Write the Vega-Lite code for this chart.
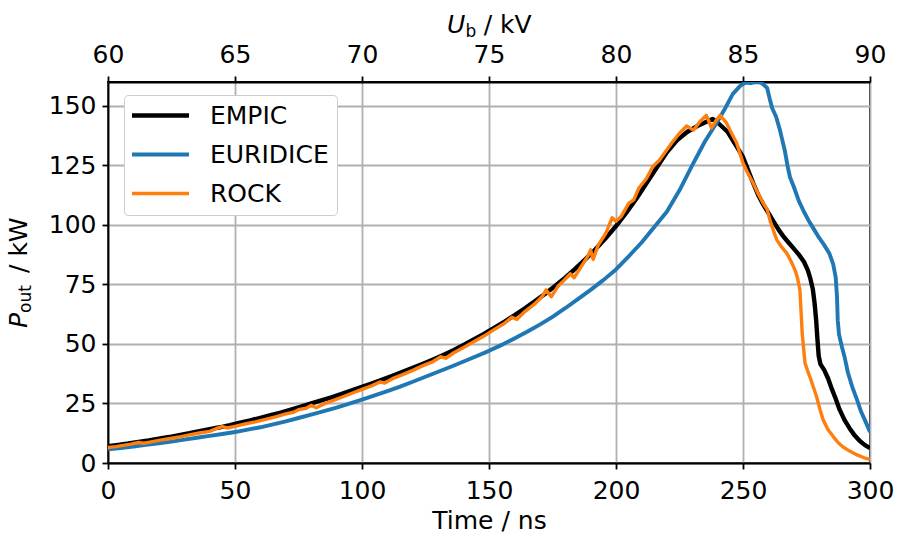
{
  "$schema": "https://vega.github.io/schema/vega-lite/v6.json",
  "width": 762,
  "height": 381,
  "autosize": {"type": "none"},
  "padding": {"left": 108, "top": 82, "right": 27, "bottom": 73},
  "background": "white",
  "config": {
    "font": "DejaVu Sans",
    "view": {"stroke": "black", "strokeWidth": 1.8},
    "axis": {
      "labelFont": "DejaVu Sans", "labelFontSize": 25, "labelColor": "black",
      "titleFont": "DejaVu Sans", "titleFontSize": 25, "titleFontWeight": "normal", "titleColor": "black",
      "domainColor": "black", "domainWidth": 1.8, "tickColor": "black", "tickWidth": 1.8, "tickSize": 6,
      "gridColor": "#b0b0b0", "gridWidth": 1.8, "labelFlush": false, "labelOverlap": false, "labelBound": false
    }
  },
  "data": {"values": [
    {"time":0,"power":7.0,"code":"EMPIC"},{"time":4,"power":7.6,"code":"EMPIC"},{"time":8,"power":8.2,"code":"EMPIC"},{"time":12,"power":8.9,"code":"EMPIC"},{"time":16,"power":9.5,"code":"EMPIC"},{"time":20,"power":10.2,"code":"EMPIC"},{"time":24,"power":10.9,"code":"EMPIC"},{"time":28,"power":11.7,"code":"EMPIC"},{"time":32,"power":12.5,"code":"EMPIC"},{"time":36,"power":13.4,"code":"EMPIC"},{"time":40,"power":14.2,"code":"EMPIC"},{"time":44,"power":15.0,"code":"EMPIC"},{"time":48,"power":15.9,"code":"EMPIC"},{"time":52,"power":16.9,"code":"EMPIC"},{"time":56,"power":17.9,"code":"EMPIC"},{"time":60,"power":19.0,"code":"EMPIC"},{"time":64,"power":20.1,"code":"EMPIC"},{"time":68,"power":21.2,"code":"EMPIC"},{"time":72,"power":22.4,"code":"EMPIC"},{"time":76,"power":23.7,"code":"EMPIC"},{"time":80,"power":25.0,"code":"EMPIC"},{"time":84,"power":26.3,"code":"EMPIC"},{"time":88,"power":27.6,"code":"EMPIC"},{"time":92,"power":29.0,"code":"EMPIC"},{"time":96,"power":30.5,"code":"EMPIC"},{"time":100,"power":32.0,"code":"EMPIC"},{"time":104,"power":33.5,"code":"EMPIC"},{"time":108,"power":35.0,"code":"EMPIC"},{"time":112,"power":36.6,"code":"EMPIC"},{"time":116,"power":38.3,"code":"EMPIC"},{"time":120,"power":40.0,"code":"EMPIC"},{"time":124,"power":41.7,"code":"EMPIC"},{"time":128,"power":43.5,"code":"EMPIC"},{"time":132,"power":45.4,"code":"EMPIC"},{"time":136,"power":47.4,"code":"EMPIC"},{"time":140,"power":49.6,"code":"EMPIC"},{"time":144,"power":51.9,"code":"EMPIC"},{"time":148,"power":54.2,"code":"EMPIC"},{"time":152,"power":56.7,"code":"EMPIC"},{"time":156,"power":59.3,"code":"EMPIC"},{"time":160,"power":62.0,"code":"EMPIC"},{"time":164,"power":64.9,"code":"EMPIC"},{"time":168,"power":67.9,"code":"EMPIC"},{"time":172,"power":71.0,"code":"EMPIC"},{"time":176,"power":74.3,"code":"EMPIC"},{"time":180,"power":77.8,"code":"EMPIC"},{"time":184,"power":81.6,"code":"EMPIC"},{"time":188,"power":85.6,"code":"EMPIC"},{"time":192,"power":89.9,"code":"EMPIC"},{"time":196,"power":94.5,"code":"EMPIC"},{"time":200,"power":99.5,"code":"EMPIC"},{"time":204,"power":105,"code":"EMPIC"},{"time":208,"power":111,"code":"EMPIC"},{"time":212,"power":117.5,"code":"EMPIC"},{"time":216,"power":124,"code":"EMPIC"},{"time":220,"power":130.5,"code":"EMPIC"},{"time":224,"power":135.5,"code":"EMPIC"},{"time":228,"power":139,"code":"EMPIC"},{"time":232,"power":141.5,"code":"EMPIC"},{"time":235,"power":143,"code":"EMPIC"},{"time":238,"power":144.5,"code":"EMPIC"},{"time":240,"power":143,"code":"EMPIC"},{"time":242,"power":141,"code":"EMPIC"},{"time":244,"power":139,"code":"EMPIC"},{"time":246,"power":135.5,"code":"EMPIC"},{"time":248,"power":132,"code":"EMPIC"},{"time":250,"power":128.5,"code":"EMPIC"},{"time":252,"power":123,"code":"EMPIC"},{"time":254,"power":117.6,"code":"EMPIC"},{"time":256,"power":112.5,"code":"EMPIC"},{"time":258,"power":108.5,"code":"EMPIC"},{"time":260,"power":105,"code":"EMPIC"},{"time":262,"power":101.5,"code":"EMPIC"},{"time":264,"power":98,"code":"EMPIC"},{"time":266,"power":95,"code":"EMPIC"},{"time":268,"power":92.5,"code":"EMPIC"},{"time":270,"power":90,"code":"EMPIC"},{"time":272,"power":87.5,"code":"EMPIC"},{"time":274,"power":84.5,"code":"EMPIC"},{"time":275.5,"power":81,"code":"EMPIC"},{"time":276.5,"power":77.5,"code":"EMPIC"},{"time":277.5,"power":73,"code":"EMPIC"},{"time":278.2,"power":67,"code":"EMPIC"},{"time":278.8,"power":60,"code":"EMPIC"},{"time":279.3,"power":52,"code":"EMPIC"},{"time":279.8,"power":45,"code":"EMPIC"},{"time":280.5,"power":41.5,"code":"EMPIC"},{"time":282,"power":39,"code":"EMPIC"},{"time":283.5,"power":35.5,"code":"EMPIC"},{"time":285,"power":31,"code":"EMPIC"},{"time":286.5,"power":27,"code":"EMPIC"},{"time":288,"power":22.5,"code":"EMPIC"},{"time":290,"power":18,"code":"EMPIC"},{"time":292,"power":14.5,"code":"EMPIC"},{"time":294,"power":11.5,"code":"EMPIC"},{"time":296,"power":9.2,"code":"EMPIC"},{"time":298,"power":7.5,"code":"EMPIC"},{"time":300,"power":6.3,"code":"EMPIC"},

    {"time":0,"power":5.7,"code":"EURIDICE"},{"time":5,"power":6.3,"code":"EURIDICE"},{"time":10,"power":6.9,"code":"EURIDICE"},{"time":15,"power":7.6,"code":"EURIDICE"},{"time":20,"power":8.3,"code":"EURIDICE"},{"time":25,"power":9.0,"code":"EURIDICE"},{"time":30,"power":9.8,"code":"EURIDICE"},{"time":35,"power":10.6,"code":"EURIDICE"},{"time":40,"power":11.4,"code":"EURIDICE"},{"time":45,"power":12.2,"code":"EURIDICE"},{"time":50,"power":13.0,"code":"EURIDICE"},{"time":55,"power":14.0,"code":"EURIDICE"},{"time":60,"power":15.0,"code":"EURIDICE"},{"time":65,"power":16.2,"code":"EURIDICE"},{"time":70,"power":17.5,"code":"EURIDICE"},{"time":75,"power":18.9,"code":"EURIDICE"},{"time":80,"power":20.3,"code":"EURIDICE"},{"time":85,"power":21.8,"code":"EURIDICE"},{"time":90,"power":23.3,"code":"EURIDICE"},{"time":95,"power":24.9,"code":"EURIDICE"},{"time":100,"power":26.6,"code":"EURIDICE"},{"time":105,"power":28.4,"code":"EURIDICE"},{"time":110,"power":30.2,"code":"EURIDICE"},{"time":115,"power":32.1,"code":"EURIDICE"},{"time":120,"power":34.1,"code":"EURIDICE"},{"time":125,"power":36.2,"code":"EURIDICE"},{"time":130,"power":38.3,"code":"EURIDICE"},{"time":135,"power":40.4,"code":"EURIDICE"},{"time":140,"power":42.6,"code":"EURIDICE"},{"time":145,"power":44.8,"code":"EURIDICE"},{"time":150,"power":47.1,"code":"EURIDICE"},{"time":155,"power":49.6,"code":"EURIDICE"},{"time":160,"power":52.3,"code":"EURIDICE"},{"time":165,"power":55.1,"code":"EURIDICE"},{"time":170,"power":58.1,"code":"EURIDICE"},{"time":175,"power":61.4,"code":"EURIDICE"},{"time":180,"power":65.0,"code":"EURIDICE"},{"time":185,"power":68.8,"code":"EURIDICE"},{"time":190,"power":72.7,"code":"EURIDICE"},{"time":195,"power":76.8,"code":"EURIDICE"},{"time":200,"power":81.3,"code":"EURIDICE"},{"time":205,"power":86.8,"code":"EURIDICE"},{"time":210,"power":92.5,"code":"EURIDICE"},{"time":215,"power":99.0,"code":"EURIDICE"},{"time":220,"power":105.5,"code":"EURIDICE"},{"time":225,"power":114.5,"code":"EURIDICE"},{"time":230,"power":125,"code":"EURIDICE"},{"time":235,"power":135,"code":"EURIDICE"},{"time":240,"power":143.5,"code":"EURIDICE"},{"time":243,"power":149,"code":"EURIDICE"},{"time":246,"power":155,"code":"EURIDICE"},{"time":249,"power":158.5,"code":"EURIDICE"},{"time":251,"power":159.8,"code":"EURIDICE"},{"time":253,"power":159.5,"code":"EURIDICE"},{"time":255,"power":160,"code":"EURIDICE"},{"time":257,"power":159.8,"code":"EURIDICE"},{"time":258.5,"power":158.5,"code":"EURIDICE"},{"time":259.5,"power":157.5,"code":"EURIDICE"},{"time":260.5,"power":153,"code":"EURIDICE"},{"time":261.5,"power":149,"code":"EURIDICE"},{"time":263,"power":145.5,"code":"EURIDICE"},{"time":264.5,"power":140,"code":"EURIDICE"},{"time":265.5,"power":135.5,"code":"EURIDICE"},{"time":266.5,"power":131,"code":"EURIDICE"},{"time":267.5,"power":125,"code":"EURIDICE"},{"time":268.5,"power":120,"code":"EURIDICE"},{"time":270,"power":116,"code":"EURIDICE"},{"time":272,"power":110,"code":"EURIDICE"},{"time":274,"power":105.5,"code":"EURIDICE"},{"time":276,"power":101.5,"code":"EURIDICE"},{"time":278,"power":98,"code":"EURIDICE"},{"time":280,"power":94.5,"code":"EURIDICE"},{"time":282,"power":91.5,"code":"EURIDICE"},{"time":284,"power":88,"code":"EURIDICE"},{"time":285.5,"power":83.5,"code":"EURIDICE"},{"time":286.5,"power":78,"code":"EURIDICE"},{"time":287,"power":70,"code":"EURIDICE"},{"time":287.3,"power":60,"code":"EURIDICE"},{"time":287.8,"power":54,"code":"EURIDICE"},{"time":289,"power":48.5,"code":"EURIDICE"},{"time":290,"power":44.5,"code":"EURIDICE"},{"time":291.3,"power":38,"code":"EURIDICE"},{"time":293,"power":32,"code":"EURIDICE"},{"time":294.9,"power":26.5,"code":"EURIDICE"},{"time":296.5,"power":21.5,"code":"EURIDICE"},{"time":298,"power":18,"code":"EURIDICE"},{"time":300,"power":13,"code":"EURIDICE"},

    {"time":0,"power":6.5,"code":"ROCK"},{"time":3,"power":6.9,"code":"ROCK"},{"time":6,"power":7.4,"code":"ROCK"},{"time":9,"power":7.9,"code":"ROCK"},{"time":12,"power":8.6,"code":"ROCK"},{"time":14,"power":8.3,"code":"ROCK"},{"time":17,"power":8.9,"code":"ROCK"},{"time":20,"power":9.5,"code":"ROCK"},{"time":24,"power":10.2,"code":"ROCK"},{"time":28,"power":10.9,"code":"ROCK"},{"time":32,"power":11.8,"code":"ROCK"},{"time":36,"power":12.6,"code":"ROCK"},{"time":40,"power":13.3,"code":"ROCK"},{"time":43,"power":14.6,"code":"ROCK"},{"time":45,"power":15.3,"code":"ROCK"},{"time":47,"power":14.7,"code":"ROCK"},{"time":50,"power":15.4,"code":"ROCK"},{"time":54,"power":16.4,"code":"ROCK"},{"time":58,"power":17.3,"code":"ROCK"},{"time":62,"power":18.3,"code":"ROCK"},{"time":66,"power":19.4,"code":"ROCK"},{"time":70,"power":20.6,"code":"ROCK"},{"time":73,"power":21.3,"code":"ROCK"},{"time":75,"power":22.4,"code":"ROCK"},{"time":78,"power":23.0,"code":"ROCK"},{"time":80,"power":24.2,"code":"ROCK"},{"time":82,"power":23.2,"code":"ROCK"},{"time":85,"power":24.8,"code":"ROCK"},{"time":88,"power":26.0,"code":"ROCK"},{"time":92,"power":27.6,"code":"ROCK"},{"time":96,"power":29.3,"code":"ROCK"},{"time":100,"power":30.9,"code":"ROCK"},{"time":104,"power":32.5,"code":"ROCK"},{"time":107,"power":34.0,"code":"ROCK"},{"time":109,"power":33.6,"code":"ROCK"},{"time":112,"power":35.4,"code":"ROCK"},{"time":116,"power":37.1,"code":"ROCK"},{"time":120,"power":38.9,"code":"ROCK"},{"time":124,"power":40.9,"code":"ROCK"},{"time":128,"power":42.6,"code":"ROCK"},{"time":131,"power":44.6,"code":"ROCK"},{"time":133,"power":44.0,"code":"ROCK"},{"time":136,"power":46.2,"code":"ROCK"},{"time":140,"power":48.5,"code":"ROCK"},{"time":144,"power":50.9,"code":"ROCK"},{"time":148,"power":53.3,"code":"ROCK"},{"time":152,"power":56.0,"code":"ROCK"},{"time":156,"power":58.6,"code":"ROCK"},{"time":159,"power":61.2,"code":"ROCK"},{"time":161,"power":60.3,"code":"ROCK"},{"time":164,"power":63.5,"code":"ROCK"},{"time":168,"power":66.8,"code":"ROCK"},{"time":171,"power":70.0,"code":"ROCK"},{"time":172.5,"power":72.7,"code":"ROCK"},{"time":174.5,"power":69.8,"code":"ROCK"},{"time":177,"power":74.0,"code":"ROCK"},{"time":180,"power":77.2,"code":"ROCK"},{"time":182,"power":79.5,"code":"ROCK"},{"time":183.5,"power":77.8,"code":"ROCK"},{"time":186,"power":82.0,"code":"ROCK"},{"time":189,"power":87.0,"code":"ROCK"},{"time":190,"power":89.5,"code":"ROCK"},{"time":191,"power":85.5,"code":"ROCK"},{"time":193,"power":91.5,"code":"ROCK"},{"time":196,"power":96.5,"code":"ROCK"},{"time":198.5,"power":103.0,"code":"ROCK"},{"time":200,"power":101.5,"code":"ROCK"},{"time":202,"power":103.5,"code":"ROCK"},{"time":205,"power":109.0,"code":"ROCK"},{"time":207,"power":110.5,"code":"ROCK"},{"time":209,"power":115.5,"code":"ROCK"},{"time":212,"power":119.5,"code":"ROCK"},{"time":214.5,"power":124.5,"code":"ROCK"},{"time":217,"power":127.0,"code":"ROCK"},{"time":220,"power":131.5,"code":"ROCK"},{"time":222,"power":134.5,"code":"ROCK"},{"time":225,"power":138.5,"code":"ROCK"},{"time":227.8,"power":141.5,"code":"ROCK"},{"time":230.5,"power":139.8,"code":"ROCK"},{"time":233,"power":143.3,"code":"ROCK"},{"time":235.6,"power":146.0,"code":"ROCK"},{"time":237.6,"power":140.7,"code":"ROCK"},{"time":239.5,"power":144,"code":"ROCK"},{"time":241,"power":146,"code":"ROCK"},{"time":243.5,"power":142.8,"code":"ROCK"},{"time":245.5,"power":138.5,"code":"ROCK"},{"time":247.5,"power":134.4,"code":"ROCK"},{"time":250,"power":126,"code":"ROCK"},{"time":252,"power":121.5,"code":"ROCK"},{"time":254,"power":117.6,"code":"ROCK"},{"time":256,"power":113,"code":"ROCK"},{"time":258,"power":109,"code":"ROCK"},{"time":259.5,"power":106.5,"code":"ROCK"},{"time":260.6,"power":102,"code":"ROCK"},{"time":262,"power":97.5,"code":"ROCK"},{"time":263.3,"power":93.7,"code":"ROCK"},{"time":265,"power":91,"code":"ROCK"},{"time":267.3,"power":88,"code":"ROCK"},{"time":269,"power":84.5,"code":"ROCK"},{"time":270.5,"power":81,"code":"ROCK"},{"time":271.5,"power":77.5,"code":"ROCK"},{"time":272.4,"power":72.7,"code":"ROCK"},{"time":272.9,"power":63,"code":"ROCK"},{"time":273.3,"power":54.6,"code":"ROCK"},{"time":274.4,"power":42,"code":"ROCK"},{"time":275.5,"power":38.5,"code":"ROCK"},{"time":276.4,"power":36,"code":"ROCK"},{"time":278,"power":31,"code":"ROCK"},{"time":279,"power":27.7,"code":"ROCK"},{"time":280.3,"power":22.5,"code":"ROCK"},{"time":281.6,"power":18,"code":"ROCK"},{"time":283.5,"power":14,"code":"ROCK"},{"time":285.6,"power":11,"code":"ROCK"},{"time":287.5,"power":8.5,"code":"ROCK"},{"time":289.4,"power":6.7,"code":"ROCK"},{"time":292,"power":5,"code":"ROCK"},{"time":294.9,"power":3.4,"code":"ROCK"},{"time":297.5,"power":2.3,"code":"ROCK"},{"time":300,"power":1.5,"code":"ROCK"}
  ]},
  "resolve": {"axis": {"x": "independent", "y": "independent"}},
  "layer": [
    {
      "mark": {"type": "line", "clip": true, "strokeJoin": "round"},
      "encoding": {
        "x": {"field": "time", "type": "quantitative", "scale": {"domain": [0, 300], "nice": false, "zero": false},
              "axis": {"title": "Time / ns", "values": [0,50,100,150,200,250,300], "grid": true, "labelPadding": 9, "titlePadding": 5}},
        "y": {"field": "power", "type": "quantitative", "scale": {"domain": [0, 160], "nice": false},
              "axis": {"title": null, "values": [0,25,50,75,100,125,150], "grid": true, "labelPadding": 6}},
        "color": {"field": "code", "type": "nominal",
                  "scale": {"domain": ["EMPIC", "EURIDICE", "ROCK"], "range": ["#000000", "#1f77b4", "#ff7f0e"]},
                  "legend": {"orient": "none", "legendX": 16, "legendY": 13, "title": null, "symbolType": "M-1.25,0H4.45",
                             "symbolSize": 400, "symbolStrokeWidth": 3.3, "labelFontSize": 25, "labelFont": "DejaVu Sans",
                             "labelColor": "black", "labelOffset": 53, "rowPadding": 13, "padding": 8,
                             "fillColor": "white", "strokeColor": "#cccccc", "cornerRadius": 4}},
        "strokeWidth": {"field": "code", "type": "nominal",
                        "scale": {"domain": ["EMPIC", "EURIDICE", "ROCK"], "range": [4.4, 3.4, 3.4]},
                        "legend": null}
      }
    },
    {
      "data": {"values": [{}]},
      "mark": {"type": "text", "text": "U", "fontStyle": "italic", "fontSize": 25, "align": "left", "baseline": "alphabetic", "font": "DejaVu Sans", "color": "black"},
      "encoding": {
        "x": {"datum": 133.5, "type": "quantitative",
              "axis": {"orient": "top", "title": null, "values": [0,50,100,150,200,250,300], "labelExpr": "format(60 + datum.value / 10, 'd')", "grid": false, "labelPadding": 9}},
        "y": {"datum": 180.6, "type": "quantitative", "axis": null}
      }
    },
    {
      "data": {"values": [{}]},
      "mark": {"type": "text", "text": "b", "fontSize": 17, "align": "left", "baseline": "alphabetic", "font": "DejaVu Sans", "color": "black"},
      "encoding": {
        "x": {"datum": 140.7, "type": "quantitative", "axis": null},
        "y": {"datum": 179.0, "type": "quantitative", "axis": null}
      }
    },
    {
      "data": {"values": [{}]},
      "mark": {"type": "text", "text": "/ kV", "fontSize": 25, "align": "left", "baseline": "alphabetic", "font": "DejaVu Sans", "color": "black"},
      "encoding": {
        "x": {"datum": 147.9, "type": "quantitative", "axis": null},
        "y": {"datum": 180.6, "type": "quantitative", "axis": null}
      }
    },
    {
      "data": {"values": [{}]},
      "mark": {"type": "text", "text": "P", "fontStyle": "italic", "fontSize": 25, "angle": 270, "align": "left", "baseline": "alphabetic", "font": "DejaVu Sans", "color": "black"},
      "encoding": {
        "x": {"datum": -31.9, "type": "quantitative", "axis": null},
        "y": {"datum": 56.7, "type": "quantitative", "axis": null}
      }
    },
    {
      "data": {"values": [{}]},
      "mark": {"type": "text", "text": "out", "fontSize": 17, "angle": 270, "align": "left", "baseline": "alphabetic", "font": "DejaVu Sans", "color": "black"},
      "encoding": {
        "x": {"datum": -30.5, "type": "quantitative", "axis": null},
        "y": {"datum": 63.0, "type": "quantitative", "axis": null}
      }
    },
    {
      "data": {"values": [{}]},
      "mark": {"type": "text", "text": "/ kW", "fontSize": 25, "angle": 270, "align": "left", "baseline": "alphabetic", "font": "DejaVu Sans", "color": "black"},
      "encoding": {
        "x": {"datum": -31.9, "type": "quantitative", "axis": null},
        "y": {"datum": 79.8, "type": "quantitative", "axis": null}
      }
    }
  ]
}
